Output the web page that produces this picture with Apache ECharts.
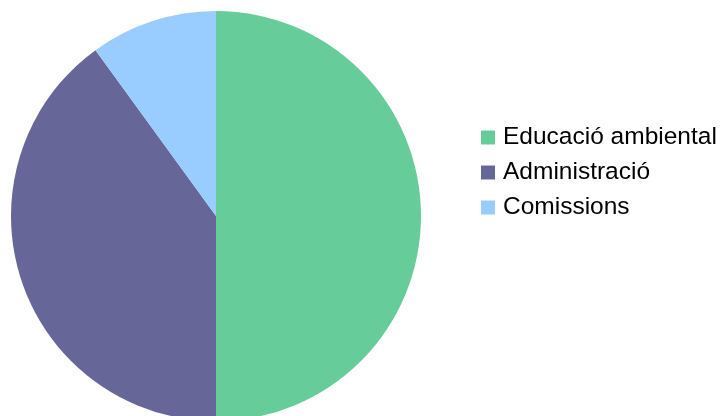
<!DOCTYPE html>
<html>
<head>
<meta charset="utf-8">
<script src="https://cdn.jsdelivr.net/npm/echarts@6/dist/echarts.min.js"></script>
<style>html,body{margin:0;padding:0;background:#fff}#c{width:721px;height:416px}</style>
</head>
<body>
<div id="c"></div>
<script>
const categories = ['Educació ambiental', 'Administració', 'Comissions'];
const values = [50, 40, 10];
const colors = ['#66CC99', '#666699', '#99CCFF'];

const chart = echarts.init(document.getElementById('c'), null, {renderer: 'canvas'});
chart.setOption({
  animation: false,
  backgroundColor: '#fff',
  color: colors,
  legend: {
    orient: 'vertical',
    left: 481,
    top: 125,
    padding: 0,
    icon: 'rect',
    itemWidth: 14,
    itemHeight: 14,
    itemGap: 10,
    textStyle: {fontFamily: 'Liberation Sans, Arial, sans-serif', fontSize: 24.5, color: '#000', lineHeight: 25, padding: [0, 0, 0, 3]},
    data: categories
  },
  series: [{
    type: 'pie',
    center: [216, 216],
    radius: 205,
    startAngle: 90,
    clockwise: true,
    label: {show: false},
    labelLine: {show: false},
    itemStyle: {borderWidth: 0},
    emphasis: {disabled: true},
    data: categories.map((n, i) => ({name: n, value: values[i]}))
  }]
});
</script>
</body>
</html>
